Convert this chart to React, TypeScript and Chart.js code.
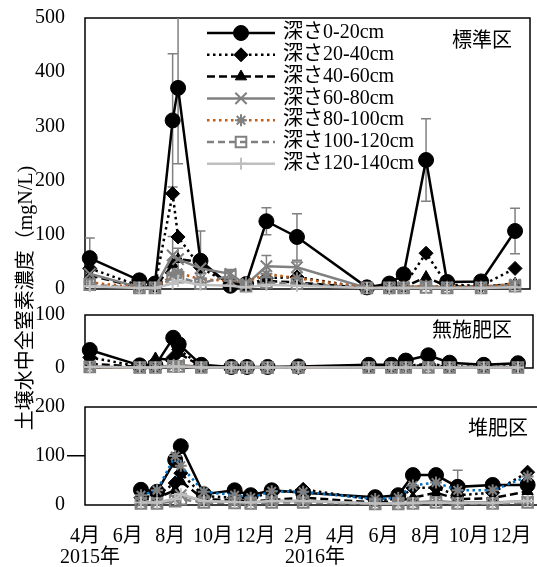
import React, { useEffect, useRef } from 'react';
import { Chart, registerables } from 'chart.js';
import { drawPoint } from 'chart.js/helpers';

Chart.register(...registerables);

// ---------- data ----------
const AXIS_START = '2015-04-01';
const AXIS_END = '2017-01-15';
const TICK_DATES = ['2015-04-01', '2015-06-01', '2015-08-01', '2015-10-01', '2015-12-01', '2016-02-01', '2016-04-01', '2016-06-01', '2016-08-01', '2016-10-01', '2016-12-01'];
const MONTH_LABELS = ['4月', '6月', '8月', '10月', '12月', '2月', '4月', '6月', '8月', '10月', '12月'];
const YEAR_LABELS = ['2015年', '2016年'];
const YEAR_TICK_INDEX = [0, 5];

const SAMPLE_DATES = ['2015-04-08', '2015-06-20', '2015-07-13', '2015-08-08', '2015-08-16', '2015-09-18', '2015-11-01', '2015-11-24', '2015-12-24', '2016-02-07', '2016-05-20', '2016-06-22', '2016-07-13', '2016-08-15', '2016-09-15', '2016-11-04', '2016-12-24'];

const SERIES_LABELS = ['深さ0-20cm', '深さ20-40cm', '深さ40-60cm', '深さ60-80cm', '深さ80-100cm', '深さ100-120cm', '深さ120-140cm'];

// 標準区
const STD_0_20 = [57, 16, 10, 311, 371, 52, 6, 9, 125, 96, 3, 10, 27, 238, 13, 14, 107];
const STD_20_40 = [38, 6, 5, 176, 96, 40, 8, 6, 20, 22, 2, 3, 5, 66, 8, 6, 38];
const STD_40_60 = [25, 3, 3, 45, 55, 50, 5, 4, 15, 12, 2, 2, 3, 22, 5, 4, 10];
const STD_60_80 = [28, 3, 3, 62, 55, 38, 28, 8, 42, 40, 2, 2, 3, 6, 3, 3, 8];
const STD_80_100 = [12, 3, 3, 25, 30, 18, 15, 12, 28, 20, 2, 3, 4, 6, 4, 4, 10];
const STD_100_120 = [8, 2, 2, 20, 22, 10, 25, 5, 12, 10, 2, 2, 2, 3, 2, 2, 5];
const STD_120_140 = [5, 2, 2, 10, 15, 8, 6, 3, 8, 6, 2, 2, 2, 2, 2, 2, 3];
const STD_ERR_0_20 = [37, 5, 4, 123, 140, 55, 4, 5, 25, 43, 2, 4, 8, 76, 8, 5, 42];
const STD_ERR_60_80 = [10, 0, 0, 35, 20, 10, 8, 3, 20, 10, 0, 0, 0, 3, 0, 0, 3];
const STD_ERR_100_120 = [0, 0, 0, 0, 0, 0, 8, 0, 0, 0, 0, 0, 0, 0, 0, 0, 0];

// 無施肥区
const NOF_0_20 = [34, 5, 5, 57, 45, 6, 2, 2, 2, 3, 6, 6, 14, 24, 10, 6, 9];
const NOF_20_40 = [20, 3, 3, 20, 35, 4, 1, 1, 1, 1, 2, 2, 4, 8, 3, 2, 3];
const NOF_40_60 = [8, 2, 18, 15, 28, 3, 1, 1, 1, 1, 1, 2, 3, 6, 2, 2, 2];
const NOF_60_80 = [3, 1, 1, 5, 6, 2, 1, 1, 1, 1, 1, 1, 1, 2, 1, 1, 1];
const NOF_80_100 = [2, 1, 1, 4, 4, 1, 1, 1, 1, 1, 1, 1, 1, 1, 1, 1, 1];
const NOF_100_120 = [2, 1, 1, 3, 3, 1, 1, 1, 1, 1, 1, 1, 1, 1, 1, 1, 1];
const NOF_120_140 = [2, 1, 1, 3, 3, 1, 1, 1, 1, 1, 1, 1, 1, 1, 1, 1, 1];

// 堆肥区
const CMP_0_20 = [null, 31, 27, 92, 120, 22, 30, 20, 30, 25, 16, 20, 61, 61, 37, 41, 41];
const CMP_20_40 = [null, 15, 20, 45, 65, 18, 15, 15, 25, 32, 10, 12, 35, 35, 20, 25, 67];
const CMP_40_60 = [null, 10, 15, 30, 48, 12, 10, 8, 10, 15, 5, 8, 15, 25, 12, 14, 28];
const CMP_60_80 = [null, 5, 5, 12, 20, 8, 6, 5, 8, 8, 3, 3, 5, 8, 5, 5, 8];
const CMP_80_100 = [null, 20, 30, 100, 80, 27, 20, 15, 28, 27, 12, 15, 40, 46, 30, 30, 58];
const CMP_100_120 = [null, 3, 3, 8, 12, 5, 4, 3, 5, 5, 2, 2, 3, 5, 3, 3, 5];
const CMP_120_140 = [null, 5, 5, 12, 22, 8, 6, 5, 8, 8, 3, 3, 4, 5, 4, 4, 8];
const CMP_ERR_0_20 = [0, 0, 0, 0, 0, 0, 0, 0, 0, 0, 0, 3, 0, 0, 34, 0, 0];

// ---------- styles ----------
const FONT_FAMILY = "'Liberation Serif', 'Noto Sans CJK JP', serif";
const FONT = `20px ${FONT_FAMILY}`;
const LINE_COLORS = ['#000000', '#000000', '#000000', '#808080', '#C55A11', '#808080', '#BFBFBF'];
const LINE_COLORS_COMPOST = ['#000000', '#000000', '#000000', '#808080', '#0070C0', '#808080', '#BFBFBF'];
const LINE_DASHES = [[], [2.5, 3.5], [8, 4], [], [2.5, 3.5], [7, 4], []];
const LINE_WIDTH = 2.5;
const POINT_STYLES = ['circle', 'rectRot', 'triangle', 'crossRot', 'star', 'rect', 'cross'];
const POINT_RADII = [7.5, 7, 6.5, 8, 6, 7.5, 6];
const POINT_FILLS = ['#000000', '#000000', '#000000', '#808080', '#808080', 'rgba(0,0,0,0)', '#BFBFBF'];
const POINT_BORDERS = ['#000000', '#000000', '#000000', '#808080', '#808080', '#808080', '#BFBFBF'];
const POINT_BORDER_WIDTHS = [1, 1, 1, 2, 2, 2, 2];

const dayOf = (s: string) => {
  const [y, m, d] = s.split('-').map(Number);
  const [y0, m0, d0] = AXIS_START.split('-').map(Number);
  return (Date.UTC(y, m - 1, d) - Date.UTC(y0, m0 - 1, d0)) / 86400000;
};
const X_MAX = dayOf(AXIS_END);

// ---------- plugins ----------
const errorBarPlugin = {
  id: 'errorBars',
  beforeDatasetsDraw(chart: any) {
    const { ctx, chartArea: a, scales } = chart;
    const xs = scales.x, ys = scales.y;
    ctx.save();
    ctx.beginPath();
    ctx.rect(a.left, a.top, a.right - a.left, a.bottom - a.top);
    ctx.clip();
    ctx.strokeStyle = '#808080';
    ctx.lineWidth = 1.5;
    chart.data.datasets.forEach((ds: any) => {
      if (!ds.errors) return;
      ds.data.forEach((p: any, i: number) => {
        const e = ds.errors[i];
        if (!e || p.y == null) return;
        const px = xs.getPixelForValue(p.x);
        const yt = ys.getPixelForValue(p.y + e);
        const yb = ys.getPixelForValue(p.y - e);
        ctx.beginPath();
        ctx.moveTo(px, yt); ctx.lineTo(px, yb);
        ctx.moveTo(px - 5, yt); ctx.lineTo(px + 5, yt);
        ctx.moveTo(px - 5, yb); ctx.lineTo(px + 5, yb);
        ctx.stroke();
      });
    });
    ctx.restore();
  },
};

const panelPlugin = {
  id: 'panelDeco',
  beforeDatasetsDraw(chart: any, _args: any, opts: any) {
    const { ctx, chartArea: a } = chart;
    ctx.save();
    ctx.strokeStyle = '#000';
    ctx.lineWidth = 1.5;
    ctx.strokeRect(a.left, a.top, a.right - a.left, a.bottom - a.top);
    ctx.font = FONT;
    ctx.fillStyle = '#000';
    ctx.textAlign = 'right';
    ctx.textBaseline = 'middle';
    ctx.fillText(opts.label, a.right - opts.dx, a.top + opts.dy);
    ctx.restore();
  },
};

const legendPlugin = {
  id: 'depthLegend',
  afterDatasetsDraw(chart: any) {
    const { ctx, chartArea: a } = chart;
    const x0 = a.left + 122;
    const x1 = x0 + 68;
    const xm = (x0 + x1) / 2;
    const y0 = a.top + 15;
    ctx.save();
    SERIES_LABELS.forEach((label, i) => {
      const y = y0 + i * 21.8;
      ctx.strokeStyle = LINE_COLORS[i];
      ctx.lineWidth = LINE_WIDTH;
      ctx.setLineDash(LINE_DASHES[i]);
      ctx.beginPath();
      ctx.moveTo(x0, y);
      ctx.lineTo(x1, y);
      ctx.stroke();
      ctx.setLineDash([]);
      ctx.fillStyle = POINT_FILLS[i];
      ctx.strokeStyle = POINT_BORDERS[i];
      ctx.lineWidth = POINT_BORDER_WIDTHS[i];
      drawPoint(ctx, { pointStyle: POINT_STYLES[i], radius: POINT_RADII[i], rotation: 0, borderWidth: POINT_BORDER_WIDTHS[i] } as any, xm, y);
      ctx.fillStyle = '#000';
      ctx.font = FONT;
      ctx.textAlign = 'left';
      ctx.textBaseline = 'middle';
      ctx.fillText(label, x1 + 8, y);
    });
    ctx.restore();
  },
};

const yearLabelPlugin = {
  id: 'yearLabels',
  afterDraw(chart: any) {
    const { ctx, chartArea: a, scales } = chart;
    const offsets = [5, 16];
    ctx.save();
    ctx.font = FONT;
    ctx.fillStyle = '#000';
    ctx.textAlign = 'center';
    ctx.textBaseline = 'middle';
    YEAR_LABELS.forEach((t, i) => {
      const px = scales.x.getPixelForValue(dayOf(TICK_DATES[YEAR_TICK_INDEX[i]]));
      ctx.fillText(t, px + offsets[i], a.bottom + 53);
    });
    ctx.restore();
  },
};

// ---------- chart config builder ----------
function buildDatasets(series: (number | null)[][], errors: Record<number, number[]>, colors: string[]) {
  return series.map((vals, i) => ({
    label: SERIES_LABELS[i],
    data: vals.map((v, j) => ({ x: dayOf(SAMPLE_DATES[j]), y: v })),
    borderColor: colors[i],
    backgroundColor: POINT_FILLS[i],
    borderWidth: LINE_WIDTH,
    borderDash: LINE_DASHES[i],
    pointStyle: POINT_STYLES[i],
    pointRadius: POINT_RADII[i],
    pointBackgroundColor: POINT_FILLS[i],
    pointBorderColor: POINT_BORDERS[i],
    pointBorderWidth: POINT_BORDER_WIDTHS[i],
    tension: 0,
    spanGaps: true,
    clip: false,
    order: 7 - i,
    errors: errors[i],
  }));
}

function buildConfig(p: any) {
  const showX = p.showX;
  return {
    type: 'line',
    data: { datasets: buildDatasets(p.series, p.errors, p.colors) },
    options: {
      animation: false,
      responsive: false,
      events: [],
      layout: { padding: p.padding, autoPadding: false },
      plugins: {
        legend: { display: false },
        tooltip: { enabled: false },
        panelDeco: { label: p.label, dx: p.labelDx, dy: p.labelDy },
      },
      scales: {
        x: {
          type: 'linear',
          min: 0,
          max: X_MAX,
          display: showX,
          grid: { display: false, drawTicks: false },
          border: { display: false },
          afterBuildTicks: (s: any) => { s.ticks = TICK_DATES.map((d) => ({ value: dayOf(d) })); },
          afterFit: (s: any) => { if (showX) s.height = 62; },
          ticks: {
            autoSkip: false,
            maxRotation: 0,
            minRotation: 0,
            padding: 20,
            color: '#000',
            font: { family: FONT_FAMILY, size: 20 },
            callback: (_v: any, i: number) => MONTH_LABELS[i],
          },
        },
        y: {
          min: 0,
          max: p.yMax,
          afterFit: (s: any) => { s.width = 85; },
          border: { display: false },
          grid: {
            display: true,
            drawOnChartArea: false,
            drawTicks: true,
            tickLength: 18,
            lineWidth: 1.5,
            color: (c: any) => (p.yTickMarks && c.tick && c.tick.value === 100 ? '#000' : 'rgba(0,0,0,0)'),
          },
          ticks: {
            stepSize: 100,
            padding: 2,
            color: '#000',
            font: { family: FONT_FAMILY, size: 20 },
          },
        },
      },
    },
    plugins: [panelPlugin, errorBarPlugin, ...(p.extraPlugins || [])],
  };
}

const PANELS = [
  {
    key: 'std', top: 0, width: 537, height: 303, yMax: 500, label: '標準区', labelDx: 18, labelDy: 24,
    padding: { left: 0, right: 7, top: 18, bottom: 14 }, showX: false, yTickMarks: false,
    series: [STD_0_20, STD_20_40, STD_40_60, STD_60_80, STD_80_100, STD_100_120, STD_120_140],
    errors: { 0: STD_ERR_0_20, 3: STD_ERR_60_80, 5: STD_ERR_100_120 },
    colors: LINE_COLORS, extraPlugins: [legendPlugin],
  },
  {
    key: 'nof', top: 300, width: 537, height: 82, yMax: 100, label: '無施肥区', labelDx: 21, labelDy: 17,
    padding: { left: 0, right: 4, top: 15, bottom: 14 }, showX: false, yTickMarks: false,
    series: [NOF_0_20, NOF_20_40, NOF_40_60, NOF_60_80, NOF_80_100, NOF_100_120, NOF_120_140],
    errors: {}, colors: LINE_COLORS, extraPlugins: [],
  },
  {
    key: 'cmp', top: 380, width: 560, height: 187, yMax: 200, label: '堆肥区', labelDx: 15, labelDy: 23,
    padding: { left: 0, right: 17, top: 27, bottom: 0 }, showX: true, yTickMarks: true,
    series: [CMP_0_20, CMP_20_40, CMP_40_60, CMP_60_80, CMP_80_100, CMP_100_120, CMP_120_140],
    errors: { 0: CMP_ERR_0_20 }, colors: LINE_COLORS_COMPOST, extraPlugins: [yearLabelPlugin],
  },
];

function Panel({ p }: { p: any }) {
  const ref = useRef<HTMLCanvasElement | null>(null);
  useEffect(() => {
    if (!ref.current) return;
    const chart = new Chart(ref.current, buildConfig(p) as any);
    return () => chart.destroy();
  }, []);
  return (
    <canvas
      ref={ref}
      width={p.width}
      height={p.height}
      style={{ position: 'absolute', left: 0, top: p.top, width: p.width, height: p.height }}
    />
  );
}

export default function App() {
  return (
    <div style={{ position: 'fixed', left: 0, top: 0, width: 537, height: 567, overflow: 'hidden', background: '#fff' }}>
      {PANELS.map((p) => <Panel key={p.key} p={p} />)}
      <div
        style={{
          position: 'absolute',
          left: 21 - 160,
          top: 298 - 12,
          width: 320,
          height: 24,
          lineHeight: '24px',
          textAlign: 'center',
          whiteSpace: 'nowrap',
          transform: 'rotate(-90deg)',
          font: FONT,
          color: '#000',
        }}
      >
        土壌水中全窒素濃度（mgN/L)
      </div>
    </div>
  );
}
